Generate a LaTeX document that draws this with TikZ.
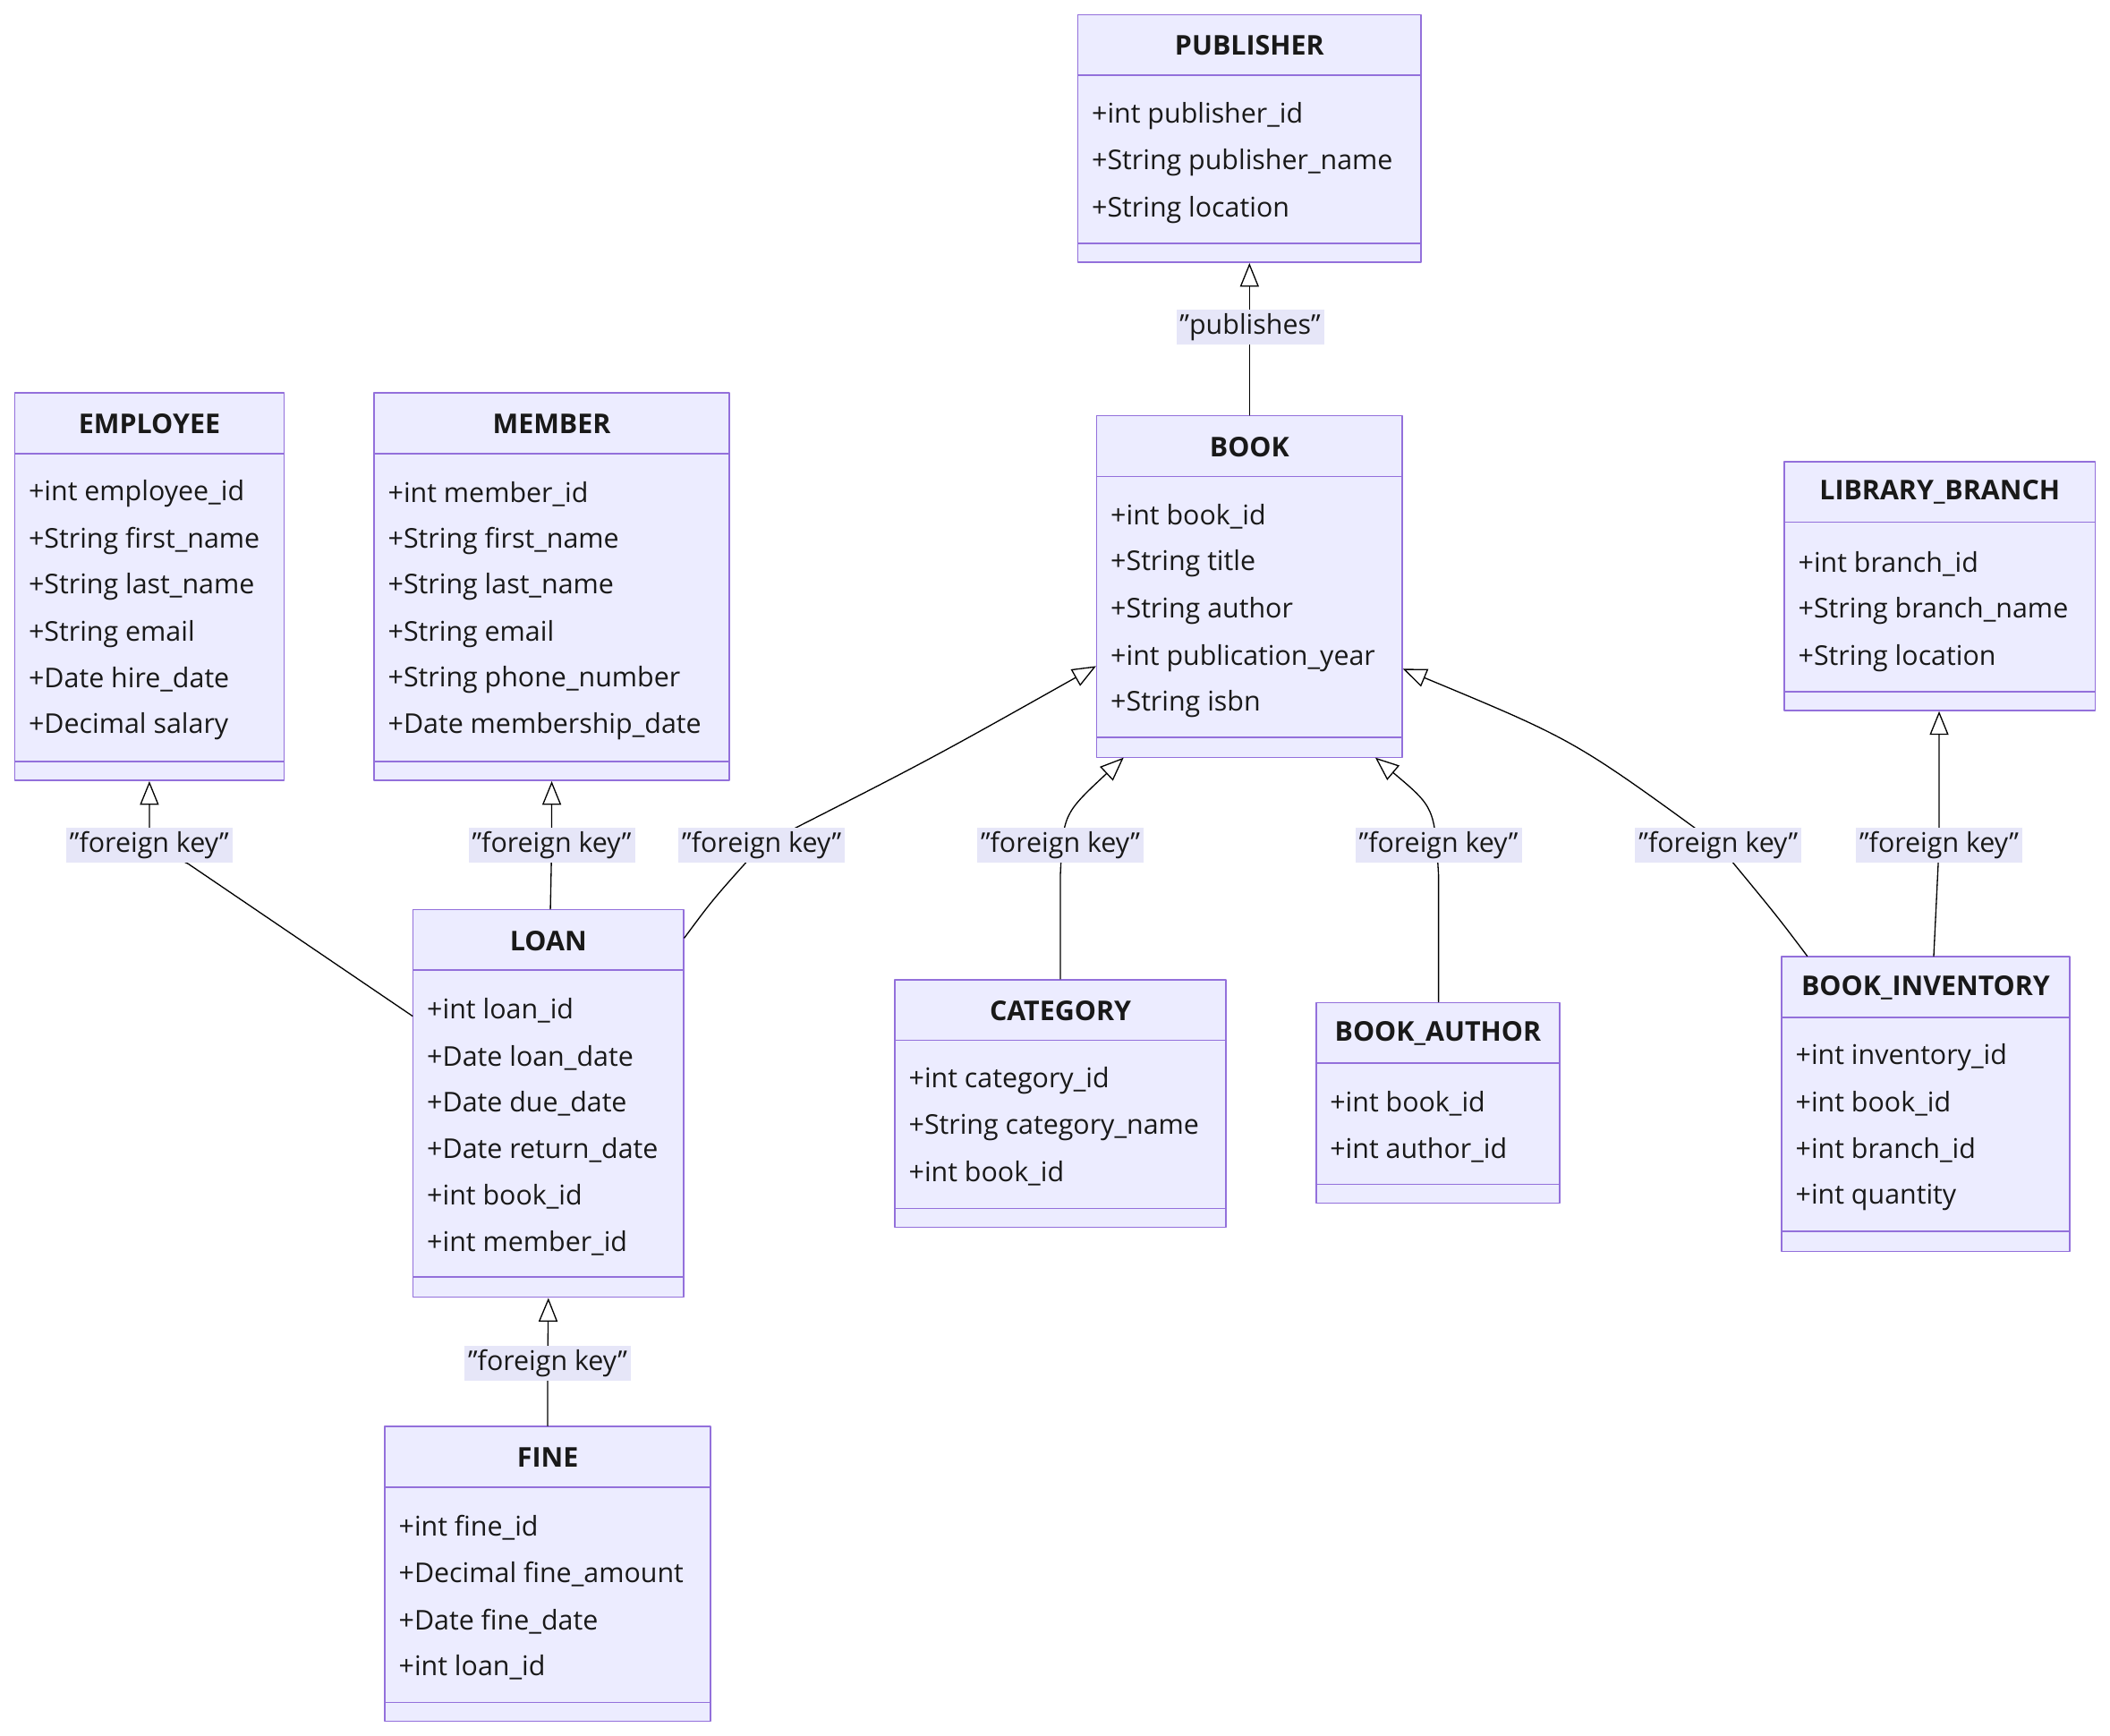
\documentclass[tikz,border=0pt]{standalone}
\usepackage{fontspec}
\setmainfont{Open Sans}
\usetikzlibrary{arrows.meta,fit}
\definecolor{boxfill}{HTML}{ECECFF}
\definecolor{boxline}{HTML}{9370DB}
\definecolor{lblfill}{HTML}{E6E6F8}
\tikzset{
  classbox/.style={draw=boxline,fill=boxfill,line width=0.6pt,inner sep=0pt},
  classtitle/.style={font=\fontsize{11.5}{14}\selectfont\bfseries,text=black!90},
  attr/.style={font=\fontsize{11.5}{14}\selectfont,anchor=west,inner sep=0pt,text=black!90},
  elabel/.style={fill=lblfill,font=\fontsize{11.5}{14}\selectfont,inner sep=1.5pt,text=black!90},
  gen/.style={line width=0.5pt,-{Triangle[open,length=10pt,width=8pt]}}
}
% name, x1, y1, x2, y2, header line, divider, title
\newcommand{\umlclass}[8]{%
  \node[classbox,fit={(#2,#3) (#4,#5)}] (#1) {};
  \draw[boxline,line width=0.6pt] (#2,#6) -- (#4,#6);
  \draw[boxline,line width=0.6pt] (#2,#7) -- (#4,#7);
  \node[classtitle] (#1-title) at ({(#2+#4)/2},{#3+23}) {#8};
}
\begin{document}
\begin{tikzpicture}[x=0.02cm,y=-0.02cm,line cap=round,line join=round]
\useasboundingbox (0,0) rectangle (1568,1290);
% classes
\umlclass{publisher}{801}{11}{1056}{195}{56}{181}{PUBLISHER}
\umlclass{book}{815}{309}{1042}{563}{354}{548}{BOOK}
\umlclass{employee}{11}{292}{211}{580}{337}{566}{EMPLOYEE}
\umlclass{member}{278}{292}{542}{580}{337}{566}{MEMBER}
\umlclass{branch}{1326}{343}{1557}{528}{388}{514}{LIBRARY\_BRANCH}
\umlclass{loan}{307}{676}{508}{964}{721}{949}{LOAN}
\umlclass{category}{665}{728}{911}{912}{773}{898}{CATEGORY}
\umlclass{bookauthor}{978}{745}{1159}{894}{790}{880}{BOOK\_AUTHOR}
\umlclass{inventory}{1324}{711}{1538}{930}{756}{915}{BOOK\_INVENTORY}
\umlclass{fine}{286}{1060}{528}{1279}{1105}{1265}{FINE}
% attributes
\foreach \y/\t [count=\i] in {86/+int publisher\_id,121/+String publisher\_name,156/+String location}
  \node[attr] (publisher-a\i) at (811,\y) {\t};
\foreach \y/\t [count=\i] in {384/+int book\_id,419/+String title,454/+String author,489/+int publication\_year,523/+String isbn}
  \node[attr] (book-a\i) at (825,\y) {\t};
\foreach \y/\t [count=\i] in {367/+int employee\_id,402/+String first\_name,436/+String last\_name,471/+String email,505/+Date hire\_date,540/+Decimal salary}
  \node[attr] (employee-a\i) at (21,\y) {\t};
\foreach \y/\t [count=\i] in {367/+int member\_id,402/+String first\_name,436/+String last\_name,471/+String email,505/+String phone\_number,540/+Date membership\_date}
  \node[attr] (member-a\i) at (288,\y) {\t};
\foreach \y/\t [count=\i] in {419/+int branch\_id,454/+String branch\_name,489/+String location}
  \node[attr] (branch-a\i) at (1336,\y) {\t};
\foreach \y/\t [count=\i] in {751/+int loan\_id,786/+Date loan\_date,820/+Date due\_date,855/+Date return\_date,889/+int book\_id,924/+int member\_id}
  \node[attr] (loan-a\i) at (317,\y) {\t};
\foreach \y/\t [count=\i] in {803/+int category\_id,838/+String category\_name,872/+int book\_id}
  \node[attr] (category-a\i) at (675,\y) {\t};
\foreach \y/\t [count=\i] in {820/+int book\_id,855/+int author\_id}
  \node[attr] (bookauthor-a\i) at (988,\y) {\t};
\foreach \y/\t [count=\i] in {786/+int inventory\_id,820/+int book\_id,855/+int branch\_id,890/+int quantity}
  \node[attr] (inventory-a\i) at (1334,\y) {\t};
\foreach \y/\t [count=\i] in {1135/+int fine\_id,1170/+Decimal fine\_amount,1205/+Date fine\_date,1239/+int loan\_id}
  \node[attr] (fine-a\i) at (296,\y) {\t};
% label positions
\coordinate (l-pub) at (929,243);
\coordinate (l-emp) at (111,628);
\coordinate (l-mem) at (410,628);
\coordinate (l-lb) at (566,628);
\coordinate (l-cat) at (788,628);
\coordinate (l-ba) at (1069,628);
\coordinate (l-inv) at (1277,628);
\coordinate (l-br) at (1441,628);
\coordinate (l-fine) at (407,1013);
% connectors
\draw[gen] (book.north) -- (publisher.south);
\draw[gen] (loan.west |- 0,755) -- (140,642) -- (l-emp) -- (employee.south);
\draw[gen] (loan.north -| 409,0) -- (l-mem) -- (member.south -| 410,0);
\draw[gen] (loan.north east |- 0,697) .. controls (530,668) .. (l-lb) .. controls (690,565) .. (book.west |- 0,495);
\draw[gen] (category.north) -- (788,650) .. controls (790,605) .. (835,563);
\draw[gen] (bookauthor.north -| 1069,0) -- (1069,650) .. controls (1066,600) .. (1022,563);
\draw[gen] (inventory.north -| 1343,0) .. controls (1320,680) .. (l-inv) .. controls (1170,550) .. (book.east |- 0,497);
\draw[gen] (inventory.north -| 1437,0) -- (l-br) -- (branch.south -| 1441,0);
\draw[gen] (fine.north) -- (l-fine) -- (loan.south);
% labels
\node[elabel] (lbl-pub) at (l-pub) {"publishes"};
\foreach \c in {emp,mem,lb,cat,ba,inv,br,fine}
  \node[elabel] (lbl-\c) at (l-\c) {"foreign key"};
\end{tikzpicture}
\end{document}
